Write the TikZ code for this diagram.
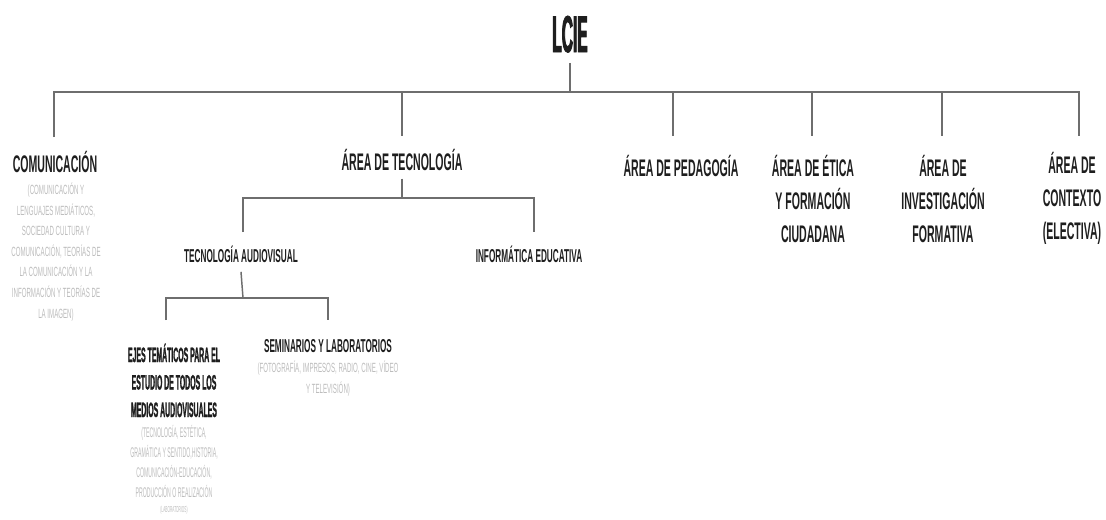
\documentclass[tikz,border=0pt]{standalone}
\usepackage{fontspec}
\setmainfont{Liberation Sans}
\newfontfamily\condf[FakeStretch=0.44]{Liberation Sans}
\newfontfamily\notecf[FakeStretch=0.46]{Liberation Sans}
\newfontfamily\ejesf[FakeStretch=0.33,FakeBold=1]{Liberation Sans}
\newfontfamily\notef[FakeStretch=0.37]{Liberation Sans}
\newfontfamily\lcief[FakeStretch=0.3,FakeBold=1.5]{Liberation Sans}
\definecolor{ink}{HTML}{1E1E1E}
\definecolor{notec}{HTML}{BDBDBD}
\definecolor{wirec}{HTML}{6E6E6E}
\tikzset{
  rootbox/.style={inner sep=0,anchor=base,text=ink,font=\lcief\bfseries\fontsize{38.8}{40}\selectfont},
  areabox/.style={inner sep=0,anchor=base,align=center,text=ink,font=\condf\bfseries\fontsize{18}{24.5}\selectfont},
  subbox/.style={inner sep=0,anchor=base,align=center,text=ink,font=\condf\bfseries\fontsize{14}{16}\selectfont},
  ejesbox/.style={inner sep=0,anchor=base,align=center,text=ink,font=\ejesf\bfseries\fontsize{15.7}{20.6}\selectfont},
  notebox/.style={inner sep=0,anchor=base,align=center,text=notec,font=\notecf\fontsize{10}{15.4}\selectfont},
  notebtwo/.style={inner sep=0,anchor=base,align=center,text=notec,font=\notef\fontsize{10.5}{15}\selectfont},
  wire/.style={draw=wirec,line width=1.1pt},
}
\begin{document}
\begin{tikzpicture}[x=0.75pt,y=-0.75pt]
\fill[white] (0,0) rectangle (1106,519);
\useasboundingbox (0,0) rectangle (1106,519);

% nodes (multi-line nodes are placed at the baseline of their last line)
\node[rootbox] (lcie) at (570,52) {LCIE};
\node[areabox] (com) at (55,172) {COMUNICACIÓN};
\node[notebox] (comn) at (56,318) {(COMUNICACIÓN Y\\LENGUAJES MEDIÁTICOS,\\SOCIEDAD CULTURA Y\\COMUNICACIÓN, TEORÍAS DE\\LA COMUNICACIÓN Y LA\\INFORMACIÓN Y TEORÍAS DE\\LA IMAGEN)};
\node[areabox] (tec) at (402,170) {ÁREA DE TECNOLOGÍA};
\node[areabox] (ped) at (681,176) {ÁREA DE PEDAGOGÍA};
\node[areabox] (eti) at (813,242) {ÁREA DE ÉTICA\\Y FORMACIÓN\\CIUDADANA};
\node[areabox] (inv) at (943,242) {ÁREA DE\\INVESTIGACIÓN\\FORMATIVA};
\node[areabox] (ctx) at (1072,239) {ÁREA DE\\CONTEXTO\\(ELECTIVA)};

\node[subbox] (aud) at (241,262) {TECNOLOGÍA AUDIOVISUAL};
\node[subbox] (inf) at (529,262) {INFORMÁTICA EDUCATIVA};

\node[ejesbox] (eje) at (174,417) {EJES TEMÁTICOS PARA EL\\ESTUDIO DE TODOS LOS\\MEDIOS AUDIOVISUALES};
\node[notebtwo] (ejen) at (174,497) {(TECNOLOGÍA, ESTÉTICA,\\GRAMÁTICA Y SENTIDO,HISTORIA,\\COMUNICACIÓN-EDUCACIÓN,\\PRODUCCIÓN O REALIZACIÓN};
\node[notebtwo,font=\notef\fontsize{6.5}{8}\selectfont] (ejel) at (174,512) {(LABORATORIOS)};
\node[subbox] (sem) at (328,352) {SEMINARIOS Y LABORATORIOS};
\node[notebox] (semn) at (328,393) {(FOTOGRAFÍA, IMPRESOS, RADIO, CINE, VÍDEO\\Y TELEVISIÓN)};

% junction coordinates
\coordinate (b1) at (54,92);
\coordinate (b0) at (570,92);
\coordinate (b2) at (402,92);
\coordinate (b3) at (673,92);
\coordinate (b4) at (812,92);
\coordinate (b5) at (942,92);
\coordinate (b6) at (1079,92);
\coordinate (d1) at (54,137);
\coordinate (d2) at (402,136);
\coordinate (d3) at (673,136);
\coordinate (d4) at (812,136);
\coordinate (d5) at (942,136);
\coordinate (d6) at (1079,136);

\coordinate (t0) at (402,198);
\coordinate (t1) at (243,198);
\coordinate (t2) at (534,198);
\coordinate (e1) at (243,232);
\coordinate (e2) at (534,232);

\coordinate (a0) at (243,298);
\coordinate (a1) at (166,298);
\coordinate (a2) at (328,298);
\coordinate (f1) at (166,320);
\coordinate (f2) at (328,320);

% connectors
\draw[wire] ([yshift=-7.5pt]lcie.south) -- (b0);
\draw[wire] (d1) -- (b1) -- (b6) -- (d6);
\draw[wire] (b2) -- (d2);
\draw[wire] (b3) -- (d3);
\draw[wire] (b4) -- (d4);
\draw[wire] (b5) -- (d5);

\draw[wire] ([yshift=-6pt]tec.south) -- (t0);
\draw[wire] (e1) -- (t1) -- (t2) -- (e2);

\draw[wire] ([yshift=-7pt]aud.south) -- (a0);
\draw[wire] (f1) -- (a1) -- (a2) -- (f2);
\end{tikzpicture}
\end{document}
